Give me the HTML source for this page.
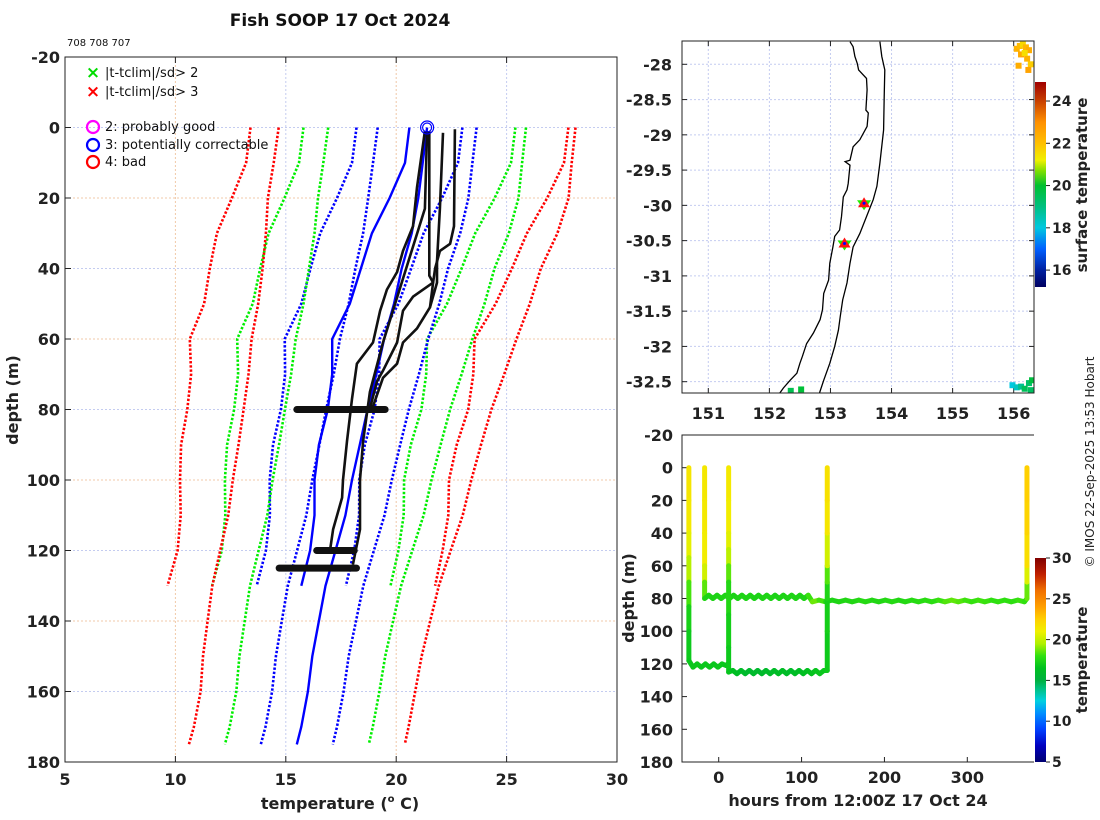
<!DOCTYPE html>
<html><head><meta charset="utf-8"><style>
html,body{margin:0;padding:0;background:#fff;}
svg{display:block;font-family:"DejaVu Sans","Liberation Sans",sans-serif;}
.tk{font-weight:bold;font-size:16px;fill:#222;}
.cb{font-weight:bold;font-size:14px;fill:#222;}
</style></head><body>
<svg id="fig" width="1100" height="820" viewBox="0 0 1100 820" xmlns="http://www.w3.org/2000/svg">
<rect width="1100" height="820" fill="#fff"/>
<defs>
<linearGradient id="gBot" x1="0" y1="1" x2="0" y2="0"></linearGradient>
<linearGradient id="gTop" x1="0" y1="1" x2="0" y2="0"></linearGradient>
<clipPath id="clipMap"><rect x="682" y="41" width="352" height="352"/></clipPath>
</defs>
<text x="340" y="26" text-anchor="middle" font-size="17" font-weight="bold" fill="#111">Fish SOOP 17 Oct 2024</text>
<text x="67" y="46" font-size="10" fill="#111">708 708 707</text>
<g id="main"></g>
<g id="map"></g>
<g id="bot"></g>
<text transform="translate(1094,462) rotate(-90)" text-anchor="middle" font-size="12" fill="#222">© IMOS 22-Sep-2025 13:53 Hobart</text>
</svg>
<script>
// ---------- main profile data ----------
const depthA = [0,10,20,30,40,50,60,70,80,90,100,110,120,130];
const meanA = [20.6,20.4,19.7,18.9,18.4,17.9,17.1,17.1,16.9,16.5,16.3,16.3,16.1,15.7];
const sdA = [2.4,2.4,2.38,2.34,2.28,2.2,2.15,2.13,2.12,2.08,2.03,2.02,2.0,2.02];
const depthB = [0,10,20,30,40,50,60,70,80,90,100,110,120,130,140,150,160,170,175];
const meanB = [21.4,21.2,21.0,20.7,20.25,19.9,19.45,19.1,18.7,18.35,18.0,17.7,17.25,16.8,16.5,16.2,16.0,15.7,15.5];
const sdB = [2.24,2.25,2.27,2.2,2.1,2.05,2.0,1.93,1.87,1.83,1.8,1.77,1.74,1.71,1.68,1.65,1.62,1.62,1.63];
const profADepth = [1,42,44,48,52,61,69,72,80];
const profATemp = [21.5,21.5,21.67,20.76,20.31,20.04,19.4,19.13,18.8];
const profBDepth = [1.5,23,38,44,51,57,61,67,71,80];
const profBTemp = [22.12,21.98,21.85,21.85,21.53,20.94,20.31,20.04,19.4,18.9];
const profCDepth = [0.5,28,33,35,40,44,51];
const profCTemp = [22.66,22.62,22.44,21.98,21.76,21.67,21.53];
const profDDepth = [1,17,28,35,41,46,52,61,67,77,89,100,105,114,120];
const profDTemp = [21.3,20.94,20.76,20.31,20.04,19.58,19.27,18.95,18.22,18.0,17.77,17.59,17.55,17.14,17.0];
const profEDepth = [1,23,61,75,89,100,114,124];
const profETemp = [21.4,21.3,19.4,18.81,18.5,18.36,18.36,18.04];
const blobDepth = [80,120,125];
const blobMin = [15.5,16.4,14.7];
const blobMax = [19.5,18.1,18.2];
const xTicks = [5,10,15,20,25,30];
const yTicks = [-20,0,20,40,60,80,100,120,140,160,180];
const flagTemp = [21.4];
const flagDepth = [0];

// ---------- map data ----------
const coastLon = [153.32,153.37,153.40,153.44,153.46,153.59,153.60,153.58,153.62,153.60,153.48,153.37,153.32,153.24,153.32,153.29,153.27,153.21,153.18,153.15,153.07,153.04,152.99,152.97,152.89,152.87,152.83,152.72,152.61,152.54,152.50,152.45,152.34,152.23,152.17];
const coastLat = [-27.68,-27.75,-27.89,-27.99,-28.08,-28.20,-28.36,-28.65,-28.69,-28.88,-29.07,-29.17,-29.36,-29.38,-29.43,-29.69,-29.78,-29.88,-30.16,-30.35,-30.44,-30.59,-30.82,-31.06,-31.25,-31.48,-31.62,-31.81,-31.96,-32.14,-32.24,-32.38,-32.48,-32.59,-32.66];
const shelfLon = [153.81,153.84,153.89,153.88,153.87,153.81,153.76,153.70,153.59,153.48,153.37,153.32,153.27,153.20,153.16,153.13,153.07,152.99,152.89,152.82];
const shelfLat = [-27.68,-27.89,-28.08,-28.46,-28.93,-29.40,-29.73,-29.92,-30.16,-30.40,-30.59,-30.82,-31.10,-31.34,-31.58,-31.77,-32.00,-32.24,-32.48,-32.66];
const stationLon = [153.55,153.23];
const stationLat = [-29.97,-30.54];
const sstLon = [156.05,156.10,156.15,156.20,156.25,156.12,156.22,156.28,156.08,156.24,156.18,155.98,156.05,156.12,156.18,156.25,156.30,152.35,152.52,156.28];
const sstLat = [-27.78,-27.74,-27.72,-27.76,-27.80,-27.86,-27.92,-28.0,-28.02,-28.08,-27.84,-32.55,-32.58,-32.57,-32.6,-32.52,-32.48,-32.63,-32.61,-32.62];
const sstTemp = [22.3,22.1,21.6,22.2,22.4,22.5,22.3,21.8,22.4,22.6,21.5,18.0,18.3,18.8,19.5,19.3,19.8,19.6,19.9,19.4];
const lonTicks = [151,152,153,154,155,156];
const latTicks = [-28,-28.5,-29,-29.5,-30,-30.5,-31,-31.5,-32,-32.5];

// ---------- depth-time data ----------
const tr1Hours = [-36,-36,-36,-36,-36,-36,-36,-36,-31,-26,-21,-16,-11,-6,-1,4,9,11];
const tr1Depth = [0,20,40,55,70,85,100,118,122,120,122,120,122,120,122,120,121,120];
const tr1Temp = [21.5,21.5,21.2,20.3,19.0,17.5,17.0,16.8,16.8,16.9,16.8,16.8,16.9,16.8,16.8,16.9,16.8,16.8];
const tr2Hours = [-17,-17,-17,-17,-17,-17,-12,-7,-2,3,8,13,18,23,28,33,38,43,48,53,58,63,68,73,78,83,88,93,98,103,108,113,121,129,137,145,153,161,169,177,185,193,201,209,217,225,233,241,249,257,265,273,281,289,297,305,313,321,329,337,345,353,361,369,372,372,372,372,372,372];
const tr2Depth = [0,20,40,60,70,80,78,80,78,80,78,80,78,80,78,80,78,80,78,80,78,80,78,80,78,80,78,80,78,80,78,82,81,82,81,82,81,82,81,82,81,82,81,82,81,82,81,82,81,82,81,82,81,82,81,82,81,82,81,82,81,82,81,82,80,70,60,40,20,0];
const tr2Temp = [21.4,21.4,21.3,21.0,19.5,17.5,17.4,17.5,17.3,17.5,17.4,17.5,17.4,17.3,17.5,17.4,17.5,17.4,17.3,17.5,17.4,17.5,17.4,17.3,17.5,17.4,17.5,17.4,17.5,17.3,17.6,18.6,18.8,17.6,17.5,17.4,17.6,17.5,17.6,17.7,17.6,17.5,17.6,17.7,17.6,17.5,17.8,17.6,17.9,17.7,18.0,18.2,18.6,18.5,18.3,18.0,18.1,18.2,18.0,17.9,18.1,17.8,18.0,18.2,17.8,19.5,21.5,22.2,22.4,22.6];
const tr3Hours = [12,12,12,12,12,12,12,12,12,17,22,27,32,37,42,47,52,57,62,67,72,77,82,87,92,97,102,107,112,117,122,127,131,131,131,131,131,131,131,131];
const tr3Depth = [0,20,40,50,60,70,90,110,125,124,126,124,126,124,126,124,126,124,126,124,126,124,126,124,126,124,126,124,126,124,126,124,124,100,80,70,60,40,20,0];
const tr3Temp = [21.4,21.3,21.0,20.3,19.2,17.8,17.3,17.0,16.8,16.6,16.3,16.2,16.0,15.8,16.0,15.9,15.8,16.1,16.0,16.2,16.1,16.3,16.2,16.0,16.2,16.3,16.4,16.5,16.6,16.7,16.8,16.8,16.9,17.0,17.3,17.6,19.2,21.3,21.6,21.8];
const hourTicks = [0,100,200,300];
const depthTicks2 = [-20,0,20,40,60,80,100,120,140,160,180];
const botCbTicks = [5,10,15,20,25,30];
const topCbTicks = [16,18,20,22,24];

// ---------- helpers ----------
const NS = 'http://www.w3.org/2000/svg';
function mk(tag, attrs, parent){ const e=document.createElementNS(NS,tag); for(const k in attrs) e.setAttribute(k,attrs[k]); parent.appendChild(e); return e; }
function lerpColor(stops, v){
  if(v<=stops[0][0]) return stops[0][1];
  for(let i=1;i<stops.length;i++){ if(v<=stops[i][0]){ const a=stops[i-1],b=stops[i]; const f=(v-a[0])/(b[0]-a[0]);
    const ca=hex(a[1]),cb=hex(b[1]); return 'rgb('+ca.map((c,j)=>Math.round(c+(cb[j]-c)*f)).join(',')+')'; } }
  return stops[stops.length-1][1];
}
function hex(h){ return [parseInt(h.substr(1,2),16),parseInt(h.substr(3,2),16),parseInt(h.substr(5,2),16)]; }
const botStops = [[5,'#000070'],[7,'#0000c0'],[9,'#0040ff'],[11,'#0090ff'],[12.5,'#00d0e0'],[14,'#00c080'],[15,'#00b040'],[16.5,'#00c020'],[18,'#30e010'],[19.5,'#b0f000'],[21,'#f0f000'],[22.5,'#ffd000'],[24,'#ffa000'],[26,'#f07000'],[28,'#c02000'],[30,'#800000']];
const topStops = [[15.2,'#000060'],[16,'#0020a0'],[17,'#0060ff'],[18,'#00c8e0'],[19,'#00c080'],[20,'#00c030'],[20.7,'#80e000'],[21.2,'#f0f000'],[22,'#ffc000'],[23,'#ff9000'],[24,'#c84000'],[24.9,'#a00000']];

// ---------- main plot ----------
const main = document.getElementById('main');
const mx0=65, mx1=617, my0=57, my1=762;
const xT = t => mx0 + (t-5)*(mx1-mx0)/25;
const yD = d => my0 + (d+20)*(my1-my0)/200;
xTicks.forEach((t,i)=>{
  const col = i%2 ? '#f0c8a8' : '#c4ccf0';
  const g=mk('line',{x1:xT(t),x2:xT(t),y1:my0,y2:my1,stroke:col,'stroke-width':1,'stroke-dasharray':'2 2'},main);
   
  const tk=mk('line',{x1:xT(t),x2:xT(t),y1:my1,y2:my1-6,stroke:'#222','stroke-width':1},main);
   
  const tk2=mk('line',{x1:xT(t),x2:xT(t),y1:my0,y2:my0+6,stroke:'#222','stroke-width':1},main);
   
  const lb=mk('text',{x:xT(t),y:785,'text-anchor':'middle',class:'tk'},main); lb.textContent=t;
   
});
yTicks.forEach((d,i)=>{
  const col = i%2 ? '#c4ccf0' : '#f0c8a8';
  const g=mk('line',{x1:mx0,x2:mx1,y1:yD(d),y2:yD(d),stroke:col,'stroke-width':1,'stroke-dasharray':'2 2'},main);
   
  const tk=mk('line',{x1:mx0,x2:mx0+6,y1:yD(d),y2:yD(d),stroke:'#222'},main);
   
  const lb=mk('text',{x:60,y:yD(d)+6,'text-anchor':'end',class:'tk'},main); lb.textContent=d;
   
});
const ax=mk('rect',{x:mx0,y:my0,width:mx1-mx0,height:my1-my0,fill:'none',stroke:'#222','stroke-width':1},main);
 
const xl=mk('text',{x:340,y:809,'text-anchor':'middle','font-size':16,'font-weight':'bold',fill:'#222'},main);
xl.innerHTML='temperature (<tspan font-size="10" dy="-7">o</tspan><tspan dy="7"> C)</tspan>';
 
const yl=mk('text',{transform:'translate(18,400) rotate(-90)','text-anchor':'middle','font-size':16,'font-weight':'bold',fill:'#222'},main);
yl.textContent='depth (m)';
 

function pathFrom(ts, ds){ return ts.map((t,i)=>(i?'L':'M')+xT(t).toFixed(1)+','+yD(ds[i]).toFixed(1)).join(' '); }
function climLines(depths, mean, sd, setName){
  const defs=[[3,'#ff0000'],[2,'#00ee00'],[1,'#0000ff']];
  defs.forEach(([k,c])=>{
    [-1,1].forEach(s=>{
      const ts=mean.map((m,i)=>m+s*k*sd[i]);
      const p=mk('path',{d:pathFrom(ts,depths),fill:'none',stroke:c,'stroke-width':2.6,'stroke-dasharray':'2.4 1.8'},main);
      
      
    });
  });
  const pm=mk('path',{d:pathFrom(mean,depths),fill:'none',stroke:'#0000ff','stroke-width':2.4},main);
  
  
}
climLines(depthA,meanA,sdA,'set-a');
climLines(depthB,meanB,sdB,'set-b');
[[profADepth,profATemp],[profBDepth,profBTemp],[profCDepth,profCTemp],[profDDepth,profDTemp],[profEDepth,profETemp]].forEach(([ds,ts],i)=>{
  const p=mk('path',{d:pathFrom(ts,ds),fill:'none',stroke:'#111','stroke-width':2.6,'stroke-linejoin':'round'},main);
  
  
});
blobDepth.forEach((d,i)=>{
  const b=mk('line',{x1:xT(blobMin[i]),x2:xT(blobMax[i]),y1:yD(d),y2:yD(d),stroke:'#111','stroke-width':7,'stroke-linecap':'round'},main);
  
  
});
flagTemp.forEach((t,i)=>{
  [6.5,4.5].forEach(r=>{
    const c=mk('circle',{cx:xT(t),cy:yD(flagDepth[i]),r:r,fill:'none',stroke:'#0000ff','stroke-width':1.2},main);
    
    
  });
});
// legend
const lg=mk('g',{},main);
 
const legX=[['×','#00dd00','|t-tclim|/sd> 2',73],['×','#ff0000','|t-tclim|/sd> 3',92]];
legX.forEach(([s,c,txt,y])=>{
  const m=mk('text',{x:93,y:y+5,'text-anchor':'middle','font-size':17,'font-weight':'bold',fill:c},lg); m.textContent=s;
   
  const t=mk('text',{x:105,y:y+4,'font-size':13,fill:'#111'},lg); t.textContent=txt;
   
});
const legC=[['#ff00ff','2: probably good',127],['#0000ff','3: potentially correctable',145],['#ff0000','4: bad',162]];
legC.forEach(([c,txt,y])=>{
  const m=mk('circle',{cx:93,cy:y,r:6,fill:'none',stroke:c,'stroke-width':2.2},lg);
   
  const t=mk('text',{x:105,y:y+4,'font-size':13,fill:'#111'},lg); t.textContent=txt;
   
});

// ---------- map ----------
const map=document.getElementById('map');
const ax0=682, ax1=1034, ay0=41, ay1=393;
const xL = lon => 708.3 + (lon-151)*61.08;
const yL = lat => 64.3 + (-28-lat)*70.53;
lonTicks.forEach(l=>{
  const g=mk('line',{x1:xL(l),x2:xL(l),y1:ay0,y2:ay1,stroke:'#c4ccf0','stroke-dasharray':'2 2'},map);
   
  const t1=mk('line',{x1:xL(l),x2:xL(l),y1:ay1,y2:ay1-5,stroke:'#222'},map);
   
  const t2=mk('line',{x1:xL(l),x2:xL(l),y1:ay0,y2:ay0+5,stroke:'#222'},map);
   
  const lb=mk('text',{x:xL(l),y:419,'text-anchor':'middle',class:'tk'},map); lb.textContent=l;
   
});
latTicks.forEach(l=>{
  const g=mk('line',{x1:ax0,x2:ax1,y1:yL(l),y2:yL(l),stroke:'#c4ccf0','stroke-dasharray':'2 2'},map);
   
  const t1=mk('line',{x1:ax0,x2:ax0+5,y1:yL(l),y2:yL(l),stroke:'#222'},map);
   
  const t2=mk('line',{x1:ax1,x2:ax1-5,y1:yL(l),y2:yL(l),stroke:'#222'},map);
   
  const lb=mk('text',{x:672,y:yL(l)+6,'text-anchor':'end',class:'tk'},map); lb.textContent=l;
   
});
const mg=mk('g',{'clip-path':'url(#clipMap)'},map);
 
sstLon.forEach((l,i)=>{
  const r=mk('rect',{x:xL(l)-3,y:yL(sstLat[i])-3,width:6,height:6,fill:lerpColor(topStops,sstTemp[i])},mg);
   
});
const cp=mk('path',{d:coastLon.map((l,i)=>(i?'L':'M')+xL(l).toFixed(1)+','+yL(coastLat[i]).toFixed(1)).join(' '),fill:'none',stroke:'#000','stroke-width':1.3},mg);
 
const sp=mk('path',{d:shelfLon.map((l,i)=>(i?'L':'M')+xL(l).toFixed(1)+','+yL(shelfLat[i]).toFixed(1)).join(' '),fill:'none',stroke:'#000','stroke-width':1.3},mg);
 
stationLon.forEach((l,i)=>{
  const x=xL(l), y=yL(stationLat[i]);
  const dn=mk('polygon',{points:`${x-7},${y-3} ${x+7},${y-3} ${x},${y+7}`,fill:'#22ee00'},mg);
   
  const up=mk('polygon',{points:`${x-6},${y+4} ${x+6},${y+4} ${x},${y-6}`,fill:'#ff1010'},mg);
   
  const c=mk('circle',{cx:x,cy:y,r:1.5,fill:'#0000ff'},mg);
   
});
const mf=mk('rect',{x:ax0,y:ay0,width:ax1-ax0,height:ay1-ay0,fill:'none',stroke:'#222'},map);
 
// top colorbar
const gTop=document.getElementById('gTop');
topStops.forEach(([v,c])=>{ const s=mk('stop',{offset:((v-15.2)/(24.9-15.2)),'stop-color':c},gTop); });
const cbT0=287, cbT1=82;
const yCT = v => cbT0 - (v-15.2)*(cbT0-cbT1)/(24.9-15.2);
const cbt=mk('rect',{x:1035,y:cbT1,width:11,height:cbT0-cbT1,fill:'url(#gTop)'},map);
 
topCbTicks.forEach(v=>{
  const tk=mk('line',{x1:1046,x2:1050,y1:yCT(v),y2:yCT(v),stroke:'#222'},map);
   
  const lb=mk('text',{x:1052,y:yCT(v)+5,class:'cb'},map); lb.textContent=v;
   
});
const stl=mk('text',{transform:'translate(1087,185) rotate(-90)','text-anchor':'middle','font-size':15,'font-weight':'bold',fill:'#222'},map);
stl.textContent='surface temperature';
 

// ---------- depth-time plot ----------
const bot=document.getElementById('bot');
const bx0=682, bx1=1034, by0=435, by1=762;
const xH = h => 718.7 + h*(967.3-718.7)/300;
const yB = d => 467.7 + d*(762-467.7)/180;
hourTicks.forEach(h=>{
  const tk=mk('line',{x1:xH(h),x2:xH(h),y1:by1,y2:by1-5,stroke:'#222'},bot);
   
  const lb=mk('text',{x:xH(h),y:783,'text-anchor':'middle',class:'tk'},bot); lb.textContent=h;
   
});
depthTicks2.forEach(d=>{
  const tk=mk('line',{x1:bx0,x2:bx0+5,y1:yB(d),y2:yB(d),stroke:'#222'},bot);
   
  const lb=mk('text',{x:673,y:yB(d)+6,'text-anchor':'end',class:'tk'},bot); lb.textContent=d;
   
});
const bl=mk('path',{d:`M${bx1},${by0} L${bx0},${by0} L${bx0},${by1} L${bx1},${by1}`,fill:'none',stroke:'#222'},bot);
 
[[tr1Hours,tr1Depth,tr1Temp],[tr2Hours,tr2Depth,tr2Temp],[tr3Hours,tr3Depth,tr3Temp]].forEach(([hs,ds,ts],k)=>{
  for(let i=1;i<hs.length;i++){
    const s=mk('line',{x1:xH(hs[i-1]),y1:yB(ds[i-1]),x2:xH(hs[i]),y2:yB(ds[i]),stroke:lerpColor(botStops,(ts[i-1]+ts[i])/2),'stroke-width':5,'stroke-linecap':'round'},bot);
    
    
  }
});
const hl=mk('text',{x:858,y:806,'text-anchor':'middle','font-size':16,'font-weight':'bold',fill:'#222'},bot);
hl.textContent='hours from 12:00Z 17 Oct 24';
 
const dl=mk('text',{transform:'translate(634,598) rotate(-90)','text-anchor':'middle','font-size':16,'font-weight':'bold',fill:'#222'},bot);
dl.textContent='depth (m)';
 
const gBot=document.getElementById('gBot');
botStops.forEach(([v,c])=>{ mk('stop',{offset:((v-5)/25),'stop-color':c},gBot); });
const cbB0=762, cbB1=558;
const yCB = v => cbB0 - (v-5)*(cbB0-cbB1)/25;
const cbb=mk('rect',{x:1035,y:cbB1,width:11,height:cbB0-cbB1,fill:'url(#gBot)'},bot);
 
botCbTicks.forEach(v=>{
  const tk=mk('line',{x1:1046,x2:1050,y1:yCB(v),y2:yCB(v),stroke:'#222'},bot);
   
  const lb=mk('text',{x:1052,y:yCB(v)+5,class:'cb'},bot); lb.textContent=v;
   
});
const ctl=mk('text',{transform:'translate(1087,660) rotate(-90)','text-anchor':'middle','font-size':15,'font-weight':'bold',fill:'#222'},bot);
ctl.textContent='temperature';
 
</script>
</body></html>
